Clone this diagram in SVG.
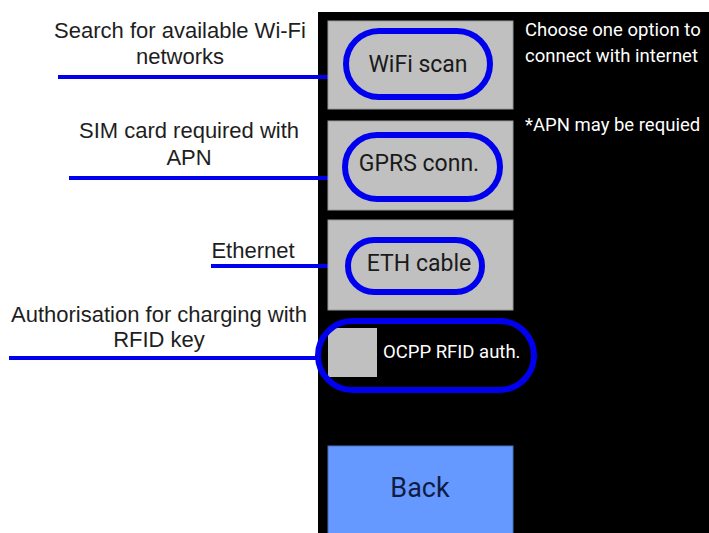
<svg xmlns="http://www.w3.org/2000/svg" width="709" height="533" viewBox="0 0 709 533">
  <style>
    .note { font-family: "Liberation Sans", Arial, sans-serif; font-size: 22px; fill: #1e1e1e; text-anchor: middle; }
    .info { font-family: Roboto, "Noto Sans", sans-serif; font-size: 18.5px; fill: #ffffff; }
    .btn { fill: #c0c0c0; stroke: #9a9a9a; stroke-width: 1; }
    .btn-label { font-family: Roboto, "Noto Sans", sans-serif; font-size: 23px; fill: #1a1a1a; text-anchor: middle; }
    .ring { fill: none; stroke: #0000ee; stroke-width: 6; }
    .link { stroke: #0000ee; stroke-width: 4; fill: none; }
  </style>

  <rect x="0" y="0" width="709" height="533" fill="#ffffff"/>

  <!-- device screen -->
  <g id="screen">
    <rect x="318" y="12" width="391" height="521" fill="#000000"/>
    <text class="info" x="525" y="36">Choose one option to</text>
    <text class="info" x="525" y="62">connect with internet</text>
    <text class="info" x="525" y="131">*APN may be requied</text>
  </g>

  <!-- connectors from notes to controls -->
  <g id="connectors">
    <line class="link" x1="58" y1="77" x2="346" y2="77"/>
    <line class="link" x1="69" y1="178" x2="345" y2="178"/>
    <line class="link" x1="211" y1="266" x2="348" y2="266"/>
    <line class="link" x1="9" y1="358" x2="318" y2="358"/>
  </g>

  <g id="wifi-scan">
    <rect class="btn" x="328" y="21" width="185" height="88"/>
    <text class="btn-label" x="418" y="72">WiFi scan</text>
    <rect class="ring" x="346" y="31" width="144" height="66" rx="33"/>
  </g>

  <g id="gprs-conn">
    <rect class="btn" x="328" y="121" width="185" height="89"/>
    <text class="btn-label" x="419" y="171">GPRS conn.</text>
    <rect class="ring" x="345" y="135" width="155" height="64" rx="32"/>
  </g>

  <g id="eth-cable">
    <rect class="btn" x="328" y="220" width="185" height="90"/>
    <text class="btn-label" x="419" y="271">ETH cable</text>
    <rect class="ring" x="348" y="240" width="134" height="52" rx="26"/>
  </g>

  <g id="ocpp-rfid">
    <rect x="328" y="328" width="49" height="49" fill="#c0c0c0"/>
    <text x="383" y="358" font-family="Roboto, 'Noto Sans', sans-serif" font-size="18.5" fill="#ffffff">OCPP RFID auth.</text>
    <rect class="ring" x="318" y="321" width="216" height="69" rx="34.5"/>
  </g>

  <g id="back">
    <rect x="328" y="446" width="185" height="90" fill="#6699ff" stroke="#4a70c0" stroke-width="1"/>
    <text x="420" y="497" font-family="Roboto, 'Noto Sans', sans-serif" font-size="27" fill="#0f1d45" text-anchor="middle">Back</text>
  </g>

  <!-- explanatory notes -->
  <g id="note-wifi">
    <text class="note" x="180" y="38">Search for available Wi-Fi</text>
    <text class="note" x="180" y="64">networks</text>
  </g>
  <g id="note-gprs">
    <text class="note" x="189" y="138">SIM card required with</text>
    <text class="note" x="189" y="165">APN</text>
  </g>
  <g id="note-eth">
    <text class="note" x="253" y="258">Ethernet</text>
  </g>
  <g id="note-rfid">
    <text class="note" x="159" y="322">Authorisation for charging with</text>
    <text class="note" x="159" y="347">RFID key</text>
  </g>
</svg>
